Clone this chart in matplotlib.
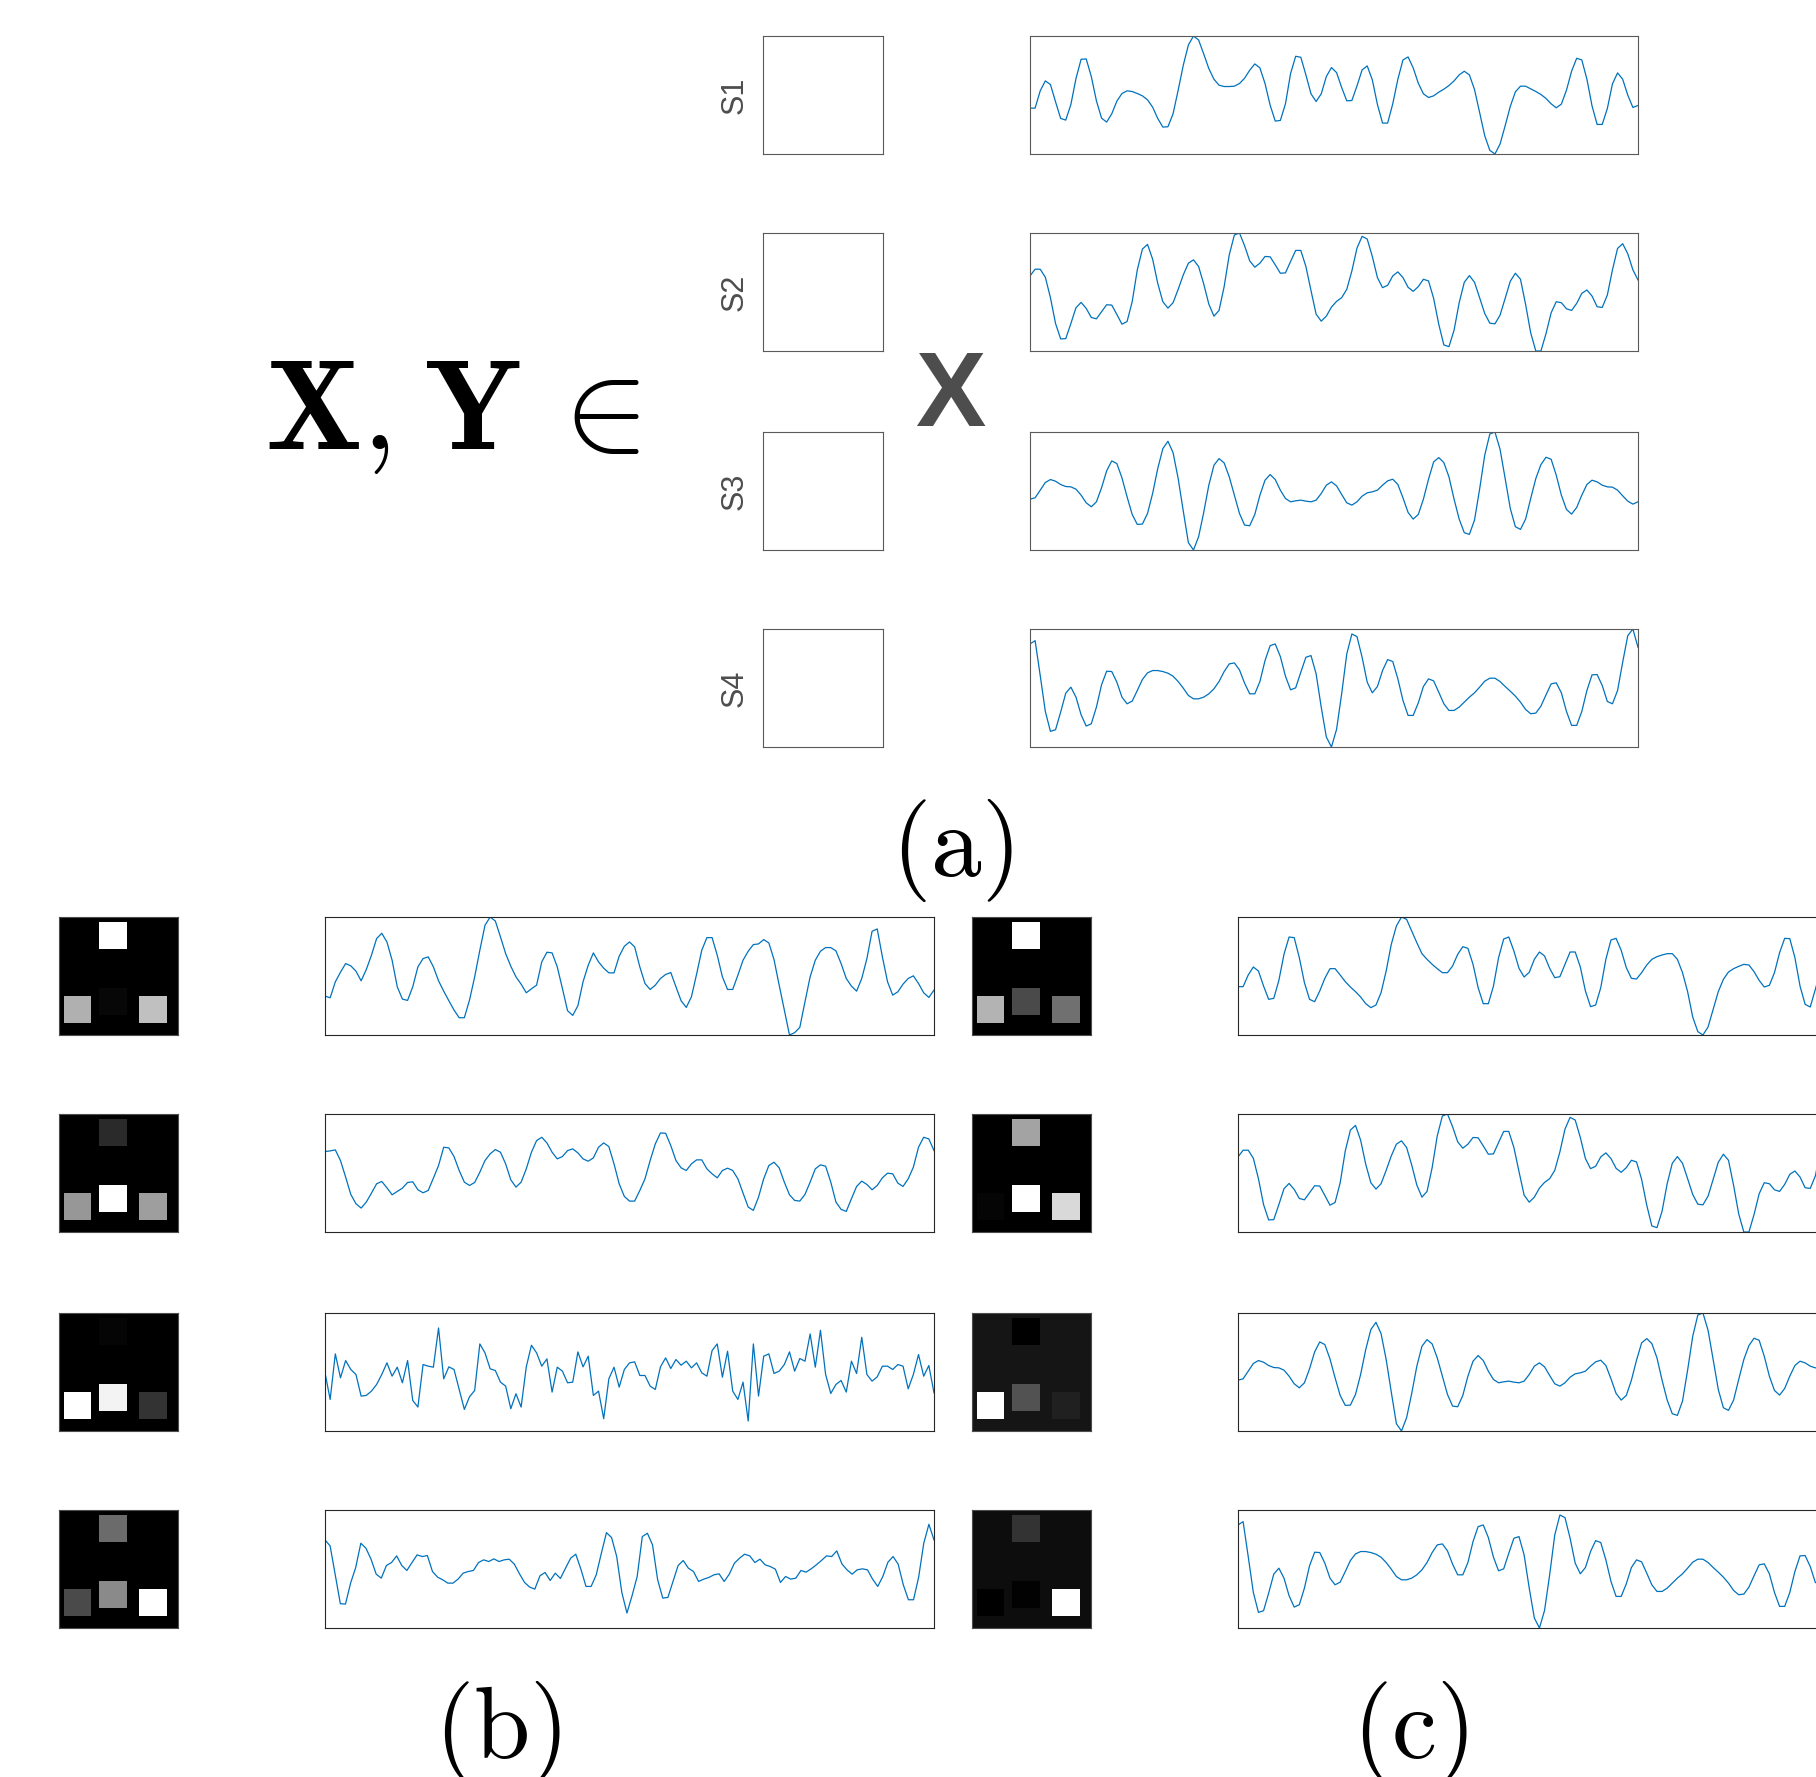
import numpy as np
import matplotlib.pyplot as plt
from matplotlib.patches import Rectangle
from matplotlib.collections import PatchCollection

plt.rcParams['mathtext.fontset'] = 'cm'

# ---------------- data ----------------
# (a) sensor signals S1..S4 (arbitrary amplitude units)
a_s1 = [138, 138, 190, 220, 209, 157, 107, 102, 149, 227,
        285, 286, 233, 160, 108, 96, 121, 159, 182, 190,
        188, 182, 175, 163, 141, 107, 81, 82, 121, 192,
        267, 328, 355, 343, 301, 257, 225, 207, 203, 203,
        204, 212, 228, 252, 271, 259, 212, 147, 99, 101,
        151, 242, 294, 291, 238, 181, 158, 181, 233, 260,
        245, 200, 160, 161, 205, 253, 265, 223, 149, 93,
        93, 151, 225, 283, 292, 259, 213, 181, 170, 175,
        186, 195, 206, 220, 238, 249, 238, 194, 125, 55,
        11, 0, 30, 85, 143, 187, 204, 204, 196, 188,
        179, 167, 151, 139, 150, 192, 249, 288, 283, 225,
        145, 89, 89, 137, 211, 244, 225, 177, 140, 146]
a_s2 = [227, 247, 247, 223, 162, 85, 39, 40, 85, 132,
        148, 130, 103, 99, 120, 141, 140, 112, 83, 91,
        150, 245, 307, 321, 277, 205, 150, 131, 147, 187,
        230, 265, 275, 255, 203, 143, 107, 124, 195, 290,
        349, 355, 317, 272, 253, 265, 285, 284, 260, 235,
        236, 270, 303, 303, 255, 183, 113, 92, 107, 134,
        151, 162, 187, 242, 310, 345, 337, 285, 222, 192,
        199, 227, 239, 222, 193, 181, 195, 217, 212, 160,
        83, 21, 16, 65, 147, 208, 228, 208, 162, 115,
        86, 84, 110, 160, 211, 235, 217, 142, 57, 3,
        3, 55, 117, 150, 147, 129, 124, 145, 175, 185,
        167, 135, 133, 170, 245, 309, 323, 293, 245, 215]
a_s3 = [153, 157, 180, 203, 212, 207, 197, 191, 190, 183,
        165, 142, 130, 145, 187, 238, 268, 260, 217, 160,
        107, 77, 78, 110, 170, 245, 305, 327, 293, 215,
        117, 22, 0, 40, 113, 195, 255, 275, 262, 220,
        165, 110, 75, 73, 107, 165, 210, 227, 212, 180,
        155, 145, 148, 150, 147, 145, 150, 170, 195, 205,
        193, 167, 142, 135, 145, 162, 172, 175, 180, 195,
        208, 213, 197, 157, 113, 93, 107, 153, 213, 265,
        278, 263, 220, 153, 93, 52, 47, 90, 183, 285,
        349, 355, 303, 215, 125, 70, 62, 93, 155, 215,
        257, 279, 273, 225, 165, 122, 108, 128, 165, 197,
        210, 205, 195, 190, 189, 180, 163, 147, 138, 145]
a_s4 = [310, 320, 215, 107, 47, 52, 105, 162, 180, 150,
        97, 63, 70, 120, 187, 228, 227, 195, 150, 130,
        138, 170, 203, 223, 230, 230, 227, 222, 213, 197,
        177, 155, 145, 145, 150, 160, 175, 197, 227, 250,
        253, 232, 192, 160, 160, 197, 260, 305, 310, 272,
        213, 172, 178, 225, 270, 275, 220, 120, 30, 0,
        53, 160, 280, 340, 332, 270, 195, 163, 182, 230,
        263, 257, 205, 140, 95, 95, 133, 182, 205, 199,
        165, 130, 110, 110, 120, 135, 150, 163, 180, 198,
        207, 207, 197, 182, 168, 153, 135, 113, 100, 102,
        123, 157, 190, 193, 163, 107, 65, 65, 107, 170,
        217, 218, 185, 137, 130, 170, 255, 335, 355, 300]

# (b) signals
b_s1 = [117, 112, 160, 189, 215, 208, 192, 163, 197, 240,
        290, 306, 280, 225, 145, 108, 104, 145, 205, 230,
        235, 205, 163, 132, 103, 75, 52, 52, 105, 175,
        255, 330, 355, 343, 295, 245, 207, 175, 153, 127,
        139, 150, 220, 249, 247, 205, 140, 73, 59, 88,
        160, 210, 247, 220, 201, 187, 187, 237, 267, 280,
        265, 205, 155, 137, 150, 170, 182, 188, 145, 103,
        83, 115, 183, 255, 293, 293, 240, 175, 137, 137,
        180, 225, 252, 272, 274, 287, 277, 227, 150, 75,
        0, 7, 23, 100, 175, 225, 252, 263, 263, 253,
        215, 170, 147, 132, 170, 230, 312, 319, 235, 160,
        120, 130, 153, 170, 178, 155, 127, 113, 135]
b_s2 = [242, 244, 247, 215, 165, 113, 85, 72, 90, 117,
        145, 152, 133, 112, 122, 132, 149, 151, 127, 118,
        125, 162, 200, 255, 253, 227, 185, 150, 140, 149,
        180, 215, 235, 248, 240, 205, 157, 135, 150, 190,
        240, 275, 285, 268, 240, 220, 227, 245, 250, 238,
        220, 213, 223, 255, 268, 257, 205, 145, 107, 93,
        93, 125, 160, 215, 265, 298, 297, 260, 215, 193,
        185, 205, 217, 217, 190, 175, 163, 185, 192, 185,
        160, 117, 75, 65, 105, 160, 200, 210, 193, 150,
        112, 95, 93, 113, 150, 190, 202, 198, 150, 90,
        68, 62, 100, 137, 153, 143, 127, 140, 163, 177,
        175, 147, 137, 160, 195, 255, 285, 280, 245]
b_s3 = [175, 95, 232, 160, 212, 185, 170, 105, 107, 120,
        140, 170, 205, 165, 192, 145, 212, 92, 72, 200,
        195, 192, 310, 157, 193, 185, 125, 65, 103, 122,
        262, 235, 187, 182, 147, 135, 67, 112, 72, 193,
        258, 235, 195, 217, 117, 192, 180, 145, 147, 238,
        193, 225, 107, 120, 37, 157, 192, 132, 185, 205,
        208, 167, 167, 135, 125, 193, 220, 188, 215, 198,
        210, 190, 205, 175, 165, 242, 262, 162, 240, 120,
        95, 147, 30, 262, 105, 225, 232, 173, 180, 200,
        238, 180, 218, 210, 292, 192, 303, 170, 113, 140,
        152, 117, 210, 173, 282, 170, 150, 163, 195, 195,
        185, 200, 195, 127, 170, 230, 165, 197, 115]
b_s4 = [265, 247, 160, 73, 72, 135, 182, 255, 240, 207,
        162, 150, 188, 197, 217, 188, 173, 197, 220, 215,
        218, 170, 153, 145, 135, 135, 147, 165, 170, 173,
        197, 205, 200, 208, 200, 205, 207, 192, 163, 137,
        123, 117, 157, 167, 143, 165, 149, 180, 210, 222,
        177, 125, 125, 160, 225, 287, 272, 215, 107, 45,
        97, 155, 275, 285, 250, 145, 90, 92, 140, 188,
        203, 180, 170, 140, 147, 152, 160, 163, 140, 162,
        195, 210, 222, 217, 197, 207, 190, 185, 177, 137,
        155, 147, 150, 173, 168, 178, 190, 203, 217, 215,
        232, 193, 175, 162, 175, 178, 175, 147, 125, 155,
        198, 215, 192, 130, 85, 85, 153, 255, 312, 265]

# (c) signals
c_s1 = [145, 145, 180, 204, 192, 147, 107, 110, 164, 242,
        294, 292, 232, 157, 107, 100, 132, 170, 199, 199,
        180, 160, 144, 130, 114, 94, 82, 90, 127, 192,
        272, 327, 354, 347, 312, 277, 244, 227, 212, 199,
        187, 187, 207, 242, 265, 260, 212, 142, 94, 94,
        147, 232, 288, 294, 252, 200, 174, 188, 227, 249,
        237, 200, 172, 175, 212, 249, 249, 204, 132, 85,
        90, 142, 227, 285, 290, 254, 202, 170, 168, 187,
        210, 227, 235, 240, 244, 244, 227, 187, 130, 54,
        10, 0, 24, 77, 130, 167, 189, 199, 206, 212,
        210, 190, 164, 144, 149, 187, 247, 290, 289, 232,
        147, 92, 84, 137, 192, 227, 242, 217, 182, 167]
c_s2 = a_s2
c_s3 = a_s3
c_s4 = a_s4

# sensor maps: intensity of nodes [top, left, middle, right]
b_maps = [[1.00, 0.69, 0.03, 0.75],
          [0.165, 0.59, 1.00, 0.62],
          [0.02, 1.00, 0.95, 0.20],
          [0.42, 0.29, 0.54, 1.00]]
c_maps = [[1.00, 0.70, 0.29, 0.44],
          [0.64, 0.02, 1.00, 0.85],
          [-0.09, 1.00, 0.26, 0.05],
          [0.16, -0.054, -0.045, 1.00]]

sensor_names = ['S1', 'S2', 'S3', 'S4']

# layout of the sensor nodes inside a map (axes fraction)
node_x = [0.455, 0.155, 0.455, 0.79]
node_y = [0.844, 0.215, 0.285, 0.215]
node_w = 0.232

# ---------------- figure ----------------
W, H = 1816, 1777
fig = plt.figure(figsize=(W / 100, H / 100), dpi=100)


def px_rect(x0, y0, x1, y1):
    return [x0 / W, 1 - y1 / H, (x1 - x0) / W, (y1 - y0) / H]


def style_frame(ax, color):
    ax.set_xticks([])
    ax.set_yticks([])
    for sp in ax.spines.values():
        sp.set_color(color)
        sp.set_linewidth(0.8)


def draw_signal(rect, values, edge, sharey=None):
    ax = fig.add_axes(rect, sharey=sharey)
    ax.plot(np.arange(len(values)), values, color='#0072BD', lw=0.9)
    ax.margins(0)
    style_frame(ax, edge)
    return ax


def draw_map(rect, vals):
    ax = fig.add_axes(rect)
    norm = plt.Normalize(min(0, min(vals)), max(vals))
    cmap = plt.get_cmap('gray')
    ax.set_facecolor(cmap(norm(0)))
    boxes = [Rectangle((x - node_w / 2, y - node_w / 2), node_w, node_w)
             for x, y in zip(node_x, node_y)]
    pc = PatchCollection(boxes, cmap=cmap, norm=norm, edgecolor='none')
    pc.set_array(np.array(vals))
    ax.add_collection(pc)
    ax.set_xlim(0, 1)
    ax.set_ylim(0, 1)
    style_frame(ax, '#4d4d4d')
    return ax


# (a) panel
a_rows = [(36, 154), (233, 351), (432, 550), (629, 747)]
a_sig = [a_s1, a_s2, a_s3, a_s4]
for (y0, y1), name, sig in zip(a_rows, sensor_names, a_sig):
    box = fig.add_axes(px_rect(763, y0, 883, y1))
    style_frame(box, '#5a5a5a')
    box.set_ylabel(name, fontsize=22, color='#4d4d4d', labelpad=10,
                   family=['Liberation Sans', 'DejaVu Sans'])
    draw_signal(px_rect(1030, y0, 1638, y1), sig, '#5a5a5a')

fig.text(265 / W, 1 - 449 / H,
         r'$\mathbf{X},\hspace{0.05}\mathbf{Y}\hspace{0.18}\in$',
         fontsize=92, ha='left', va='baseline')
fig.text(950 / W, 1 - 426 / H, 'X', fontsize=76, fontweight='bold',
         color='#4d4d4d', ha='center', va='baseline',
         family=['Liberation Sans', 'DejaVu Sans'])
fig.text(952 / W, 1 - 851 / H, r'$\mathrm{(a)}$', fontsize=73,
         ha='center', va='center')

# (b) and (c) panels
bc_rows = [(917, 1035), (1114, 1232), (1313, 1431), (1510, 1628)]
b_sig = [b_s1, b_s2, b_s3, b_s4]
c_sig = [c_s1, c_s2, c_s3, c_s4]
b_first = None
for (y0, y1), sig, vals in zip(bc_rows, b_sig, b_maps):
    draw_map(px_rect(59, y0, 178, y1), vals)
    ax = draw_signal(px_rect(325, y0, 934, y1), sig, '#262626', sharey=b_first)
    if b_first is None:
        b_first = ax
for (y0, y1), sig, vals in zip(bc_rows, c_sig, c_maps):
    draw_map(px_rect(972, y0, 1091, y1), vals)
    draw_signal(px_rect(1238, y0, 1846, y1), sig, '#262626')

fig.text(498 / W, 1 - 1733 / H, r'$\mathrm{(b)}$', fontsize=73,
         ha='center', va='center')
fig.text(1410 / W, 1 - 1733 / H, r'$\mathrm{(c)}$', fontsize=73,
         ha='center', va='center')

fig.savefig('out.png', dpi=100)
plt.close(fig)
